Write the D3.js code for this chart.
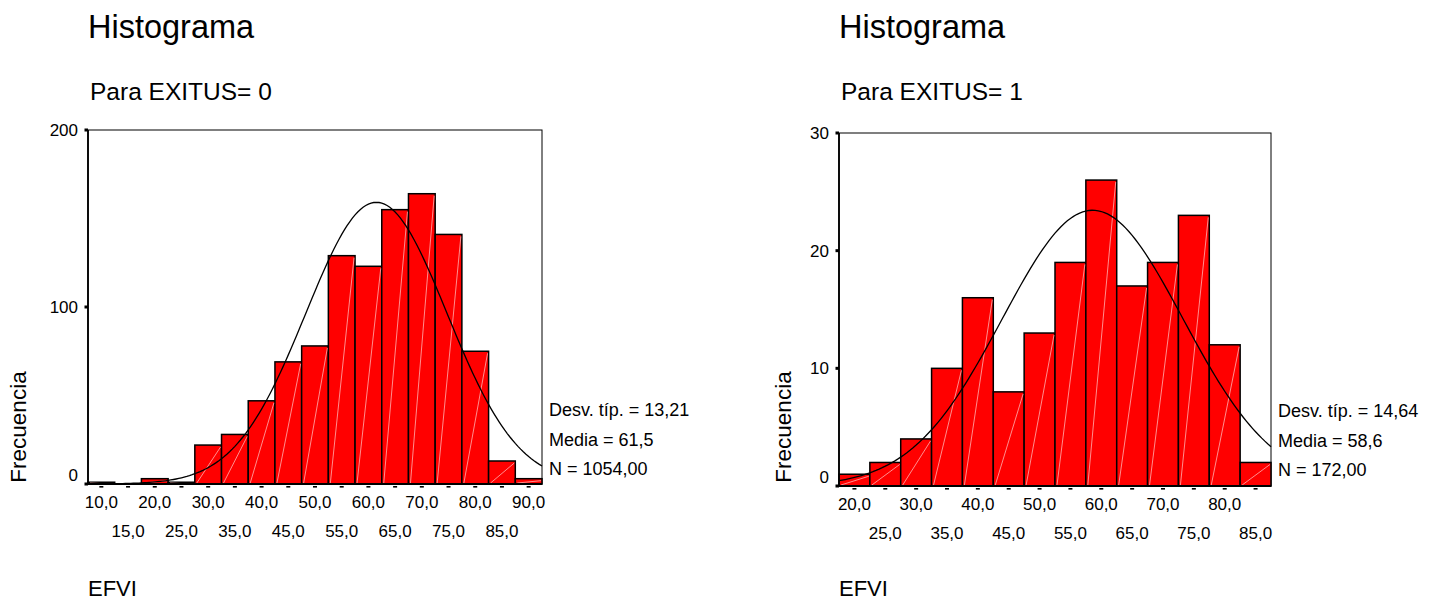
<!DOCTYPE html>
<html>
<head>
<meta charset="utf-8">
<script src="https://cdn.jsdelivr.net/npm/d3@7"></script>
<style>
  body { margin: 0; background: #fff; }
  svg { display: block; font-family: "Liberation Sans", Arial, sans-serif; }
</style>
</head>
<body>
<svg id="chart" width="1432" height="601"></svg>
<script>
// bin centres (EFVI) and frequencies
const bins0 = [10, 15, 20, 25, 30, 35, 40, 45, 50, 55, 60, 65, 70, 75, 80, 85, 90];
const counts0 = [1, 0, 3, 1, 22, 28, 47, 69, 78, 129, 123, 155, 164, 141, 75, 13, 3];
const yTicks0 = [0, 100, 200];
const stats0 = { sd: 13.21, mean: 61.5, n: 1054 };

const bins1 = [20, 25, 30, 35, 40, 45, 50, 55, 60, 65, 70, 75, 80, 85];
const counts1 = [1, 2, 4, 10, 16, 8, 13, 19, 26, 17, 19, 23, 12, 2];
const yTicks1 = [0, 10, 20, 30];
const stats1 = { sd: 14.64, mean: 58.6, n: 172 };

const binWidth = 5;
const fmt = v => d3.format(".1f")(v).replace(".", ",");
const fmt2 = v => d3.format(".2f")(v).replace(".", ",");

const svg = d3.select("#chart");

function drawHist(cfg) {
    const g = svg.append("g");
    const { left, right, top, bottom } = cfg.box;

    const x = d3.scaleLinear()
        .domain([cfg.bins[0] - binWidth / 2, cfg.bins[cfg.bins.length - 1] + binWidth / 2])
        .range([left, right]);
    const y = d3.scaleLinear()
        .domain([0, cfg.yTicks[cfg.yTicks.length - 1]])
        .range([bottom, top]);

    // titles
    g.append("text").attr("x", left).attr("y", 38)
        .attr("font-size", 32.5).text("Histograma");
    g.append("text").attr("x", left + 2).attr("y", 100)
        .attr("font-size", 24.5).text(cfg.subtitle);

    // frame
    g.append("rect")
        .attr("x", left).attr("y", top)
        .attr("width", right - left).attr("height", bottom - top)
        .attr("fill", "none").attr("stroke", "#000").attr("stroke-width", 1);

    const data = cfg.bins.map((b, i) => ({ b, c: cfg.counts[i] }));

    // bars
    g.append("g").selectAll("rect")
        .data(data.filter(d => d.c > 0))
        .enter().append("rect")
        .attr("x", d => x(d.b - binWidth / 2))
        .attr("y", d => y(d.c))
        .attr("width", d => x(d.b + binWidth / 2) - x(d.b - binWidth / 2))
        .attr("height", d => y(0) - y(d.c))
        .attr("fill", "#ff0000")
        .attr("stroke", "#000")
        .attr("stroke-width", 1.5);

    // faint diagonal line inside each bar
    g.append("g").selectAll("line")
        .data(data.filter(d => d.c > 0))
        .enter().append("line")
        .attr("x1", d => x(d.b - binWidth / 2) + 2)
        .attr("y1", y(0) - 1)
        .attr("x2", d => x(d.b + binWidth / 2) - 1)
        .attr("y2", d => y(d.c) + 2)
        .attr("stroke", "#ffb3b3")
        .attr("stroke-width", 0.8);

    // normal curve from the stated mean, sd and N
    const s = cfg.stats;
    const dens = v => s.n * binWidth / (s.sd * Math.sqrt(2 * Math.PI)) *
        Math.exp(-0.5 * Math.pow((v - s.mean) / s.sd, 2));
    const xs = d3.range(x.domain()[0], x.domain()[1] + 0.001, 0.5);
    g.append("path")
        .datum(xs)
        .attr("fill", "none")
        .attr("stroke", "#000")
        .attr("stroke-width", 1.3)
        .attr("d", d3.line().x(v => x(v)).y(v => y(dens(v))));

    // axes lines
    g.append("line").attr("x1", left).attr("x2", left).attr("y1", top).attr("y2", bottom)
        .attr("stroke", "#000").attr("stroke-width", 1.8);
    g.append("line").attr("x1", left).attr("x2", right).attr("y1", bottom).attr("y2", bottom)
        .attr("stroke", "#000").attr("stroke-width", 1.8);

    // y ticks
    g.append("g").selectAll("rect")
        .data(cfg.yTicks)
        .enter().append("rect")
        .attr("x", left - 3.5).attr("y", d => y(d) - 1.5)
        .attr("width", 3.5).attr("height", 3)
        .attr("fill", "#000");
    g.append("g").selectAll("text")
        .data(cfg.yTicks)
        .enter().append("text")
        .attr("x", left - 10)
        .attr("y", d => y(d) + (d === 0 ? -3 : 6))
        .attr("text-anchor", "end")
        .attr("font-size", 17)
        .text(d => d);

    // x ticks (small dashes) and two-row labels
    g.append("g").selectAll("rect")
        .data(cfg.bins)
        .enter().append("rect")
        .attr("x", d => x(d) - 2).attr("y", bottom + 2)
        .attr("width", 4).attr("height", 1.6)
        .attr("fill", "#000");
    g.append("g").selectAll("text")
        .data(cfg.bins)
        .enter().append("text")
        .attr("x", d => x(d))
        .attr("y", (d, i) => i % 2 === 0 ? bottom + 24 : bottom + 53)
        .attr("text-anchor", "middle")
        .attr("font-size", 17)
        .text(d => fmt(d));

    // axis titles
    g.append("text")
        .attr("transform", `translate(${cfg.ylabX},427) rotate(-90)`)
        .attr("text-anchor", "middle")
        .attr("font-size", 22.5)
        .text("Frecuencia");
    g.append("text").attr("x", left).attr("y", 596)
        .attr("font-size", 22).text("EFVI");

    // stats box text
    const lines = [
        "Desv. típ. = " + fmt2(s.sd),
        "Media = " + fmt(s.mean),
        "N = " + fmt2(s.n)
    ];
    g.append("g").selectAll("text")
        .data(lines)
        .enter().append("text")
        .attr("x", right + 7)
        .attr("y", (d, i) => cfg.statsY + i * 29.5)
        .attr("font-size", 18)
        .text(d => d);
}

drawHist({
    box: { left: 88, right: 542, top: 130, bottom: 484 },
    bins: bins0, counts: counts0, yTicks: yTicks0, stats: stats0,
    subtitle: "Para EXITUS= 0", ylabX: 26, statsY: 416
});
drawHist({
    box: { left: 839, right: 1271, top: 133, bottom: 486 },
    bins: bins1, counts: counts1, yTicks: yTicks1, stats: stats1,
    subtitle: "Para EXITUS= 1", ylabX: 791, statsY: 417
});
</script>
</body>
</html>
